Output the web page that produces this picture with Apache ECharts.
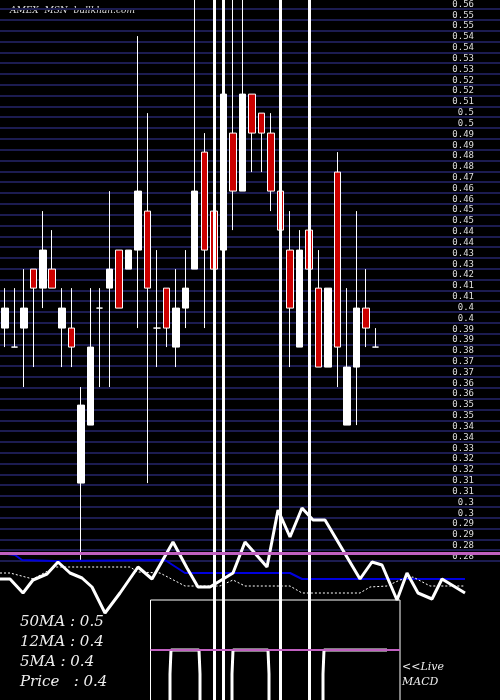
<!DOCTYPE html>
<html><head><meta charset="utf-8">
<script src="https://cdn.jsdelivr.net/npm/echarts@6/dist/echarts.min.js"></script>
<style>html,body{margin:0;padding:0;background:#000}#c{width:500px;height:700px}</style>
</head><body><div id="c"></div>
<script>
// tick labels (top to bottom)
var tickLabels = ['0.56','0.55','0.55','0.54','0.54','0.53','0.53','0.52','0.52','0.51','0.5','0.5','0.49','0.49','0.48','0.48','0.47','0.46','0.46','0.45','0.45','0.44','0.44','0.43','0.43','0.42','0.41','0.41','0.4','0.4','0.39','0.39','0.38','0.37','0.37','0.36','0.36','0.35','0.35','0.34','0.34','0.33','0.32','0.32','0.31','0.31','0.3','0.3','0.29','0.29','0.28','0.28'];
var days = [];
for (var d = 1; d <= 40; d++) days.push('D' + d);
// [open, close, low, high]
var candles = [
[0.3935,0.4038,0.3837,0.4141],[0.3837,0.3837,0.3837,0.4141],[0.3935,0.4038,0.3631,0.4239],[0.4239,0.4141,0.3734,0.4239],
[0.4141,0.4337,0.4038,0.4538],[0.4239,0.4141,0.4141,0.4440],[0.3935,0.4038,0.3734,0.4141],[0.3935,0.3837,0.3734,0.4141],
[0.3136,0.3538,0.2739,0.3631],[0.3435,0.3837,0.3435,0.4141],[0.4038,0.4038,0.3631,0.4141],[0.4141,0.4239,0.3631,0.4641],
[0.4337,0.4038,0.4038,0.4337],[0.4239,0.4337,0.4239,0.4337],[0.4337,0.4641,0.3935,0.5440],[0.4538,0.4141,0.3136,0.5043],
[0.3935,0.3935,0.3734,0.4337],[0.4141,0.3935,0.3837,0.4141],[0.3837,0.4038,0.3734,0.4239],[0.4038,0.4141,0.3935,0.4337],
[0.4239,0.4641,0.4239,0.58],[0.4842,0.4337,0.3935,0.4940],[0.4538,0.4239,0.4239,0.4538],[0.4337,0.5141,0.4239,0.58],
[0.4940,0.4641,0.4440,0.58],[0.4641,0.5141,0.4641,0.58],[0.5141,0.4940,0.4739,0.5141],[0.5043,0.4940,0.4739,0.5043],
[0.4940,0.4641,0.4538,0.5043],[0.4641,0.4440,0.4440,0.4842],[0.4337,0.4038,0.3734,0.4538],[0.3837,0.4337,0.3837,0.4440],
[0.4440,0.4239,0.4239,0.4440],[0.4141,0.3734,0.3734,0.4337],[0.3734,0.4141,0.3734,0.4141],[0.4739,0.3837,0.3631,0.4842],
[0.3435,0.3734,0.3435,0.4141],[0.3734,0.4038,0.3435,0.4538],[0.4038,0.3935,0.3837,0.4239],[0.3837,0.3837,0.3837,0.3935]
];
var bigLineDays = [22, 23, 29, 32];
// lower panel indicator lines: [x, level]
var priceLine = [[0,79],[10,79],[23,93],[33,80],[47,74],[58,62],[70,73],[82,78],[92,87],[105,113],[120,93],[138,67],[152,79],[173,42],[187,68],[198,87],[210,87],[233,73],[245,42],[267,67],[278,10],[290,37],[302,8],[313,20],[325,20],[360,79],[372,62],[382,65],[397,100],[407,73],[418,93],[432,99],[442,79],[465,93]];
var ma5Line = [[0,73],[10,73],[33,79],[55,67],[130,67],[138,72],[160,73],[185,86],[220,86],[233,80],[245,86],[290,86],[302,93],[360,93],[370,87],[387,86],[400,80],[413,77],[430,86],[465,86]];
var ma12Line = [[0,53],[15,55],[22,60],[55,61],[165,60],[185,73],[290,73],[302,79],[465,79]];
var macdLine = [[170,200],[170,174],[171,150],[199,150],[200,174],[200,200],null,[232,200],[232,174],[233,150],[268,150],[269,174],[269,200],null,[323,200],[323,174],[324,150],[387,150]];
var macdBox = [[150.5,200],[150.5,100],[400,100],[400,200]];
var stats = [['50MA','0.5'],['12MA','0.4'],['5MA','0.4'],['Price  ','0.4']];

var chart = echarts.init(document.getElementById('c'));
var serif = 'DejaVu Serif, Liberation Serif, serif';
var graphics = [{type:'text',left:10,top:6,style:{text:'AMEX  MSN  bullkhan.com',fill:'#ddd',font:'italic 9px '+serif}}];
stats.forEach(function(s,i){graphics.push({type:'text',left:20,top:615+i*20,style:{text:s[0]+' : '+s[1],fill:'#eee',font:'italic 15px '+serif}});});
graphics.push({type:'text',left:402,top:660,style:{text:'<<Live\nMACD',fill:'#eee',font:'italic 11px '+serif,lineHeight:15}});
chart.setOption({
  backgroundColor:'#000',
  animation:false,
  graphic:graphics,
  grid:[
    {left:0,right:0,top:5,height:556},
    {left:-2,right:120,top:0,bottom:0},
    {left:0,right:0,top:500,bottom:0}
  ],
  xAxis:[
    {gridIndex:0,type:'value',show:false,min:0,max:1},
    {gridIndex:1,type:'category',data:days,show:false},
    {gridIndex:2,type:'value',show:false,min:0,max:500}
  ],
  yAxis:[
    {gridIndex:0,type:'category',data:tickLabels,inverse:true,boundaryGap:false,position:'right',
     axisLine:{show:false},axisTick:{show:false},
     axisLabel:{inside:true,margin:26,color:'#ddd',fontSize:9,fontFamily:'DejaVu Sans Mono',verticalAlign:'bottom',interval:0},
     splitLine:{show:true,interval:0,lineStyle:{color:'#1c1c50',width:2}}},
    {gridIndex:1,type:'value',show:false,min:0.2018,max:0.5626,scale:true},
    {gridIndex:2,type:'value',show:false,min:0,max:200,inverse:true}
  ],
  series:[
    {type:'candlestick',xAxisIndex:1,yAxisIndex:1,data:candles,barWidth:7,clip:true,
     itemStyle:{color:'#ffffff',color0:'#cc0000',borderColor:'#ffffff',borderColor0:'#ffffff',borderWidth:1},
     markLine:{silent:true,symbol:'none',label:{show:false},lineStyle:{color:'#fff',width:3,type:'solid'},
       data:bigLineDays.map(function(d){return {xAxis:d};})}},
    {type:'line',xAxisIndex:2,yAxisIndex:2,data:[],
     markLine:{silent:true,symbol:'none',label:{show:false},lineStyle:{color:'#c060c0',width:3,type:'solid'},data:[{yAxis:53}]}},
    {type:'line',xAxisIndex:2,yAxisIndex:2,data:ma12Line,symbol:'none',lineStyle:{color:'#0000dd',width:2}},
    {type:'line',xAxisIndex:2,yAxisIndex:2,data:ma5Line,symbol:'none',lineStyle:{color:'#fff',width:1,type:[2,2]}},
    {type:'line',xAxisIndex:2,yAxisIndex:2,data:priceLine,symbol:'none',lineStyle:{color:'#fff',width:3}},
    {type:'line',xAxisIndex:2,yAxisIndex:2,data:macdBox,symbol:'none',lineStyle:{color:'#fff',width:1}},
    {type:'line',xAxisIndex:2,yAxisIndex:2,data:macdLine,symbol:'none',connectNulls:false,lineStyle:{color:'#fff',width:3},
     markLine:{silent:true,symbol:'none',label:{show:false},lineStyle:{color:'#c060c0',width:2,type:'solid'},
       data:[[{coord:[150.5,150]},{coord:[400,150]}]]}}
  ]
});
</script></body></html>
